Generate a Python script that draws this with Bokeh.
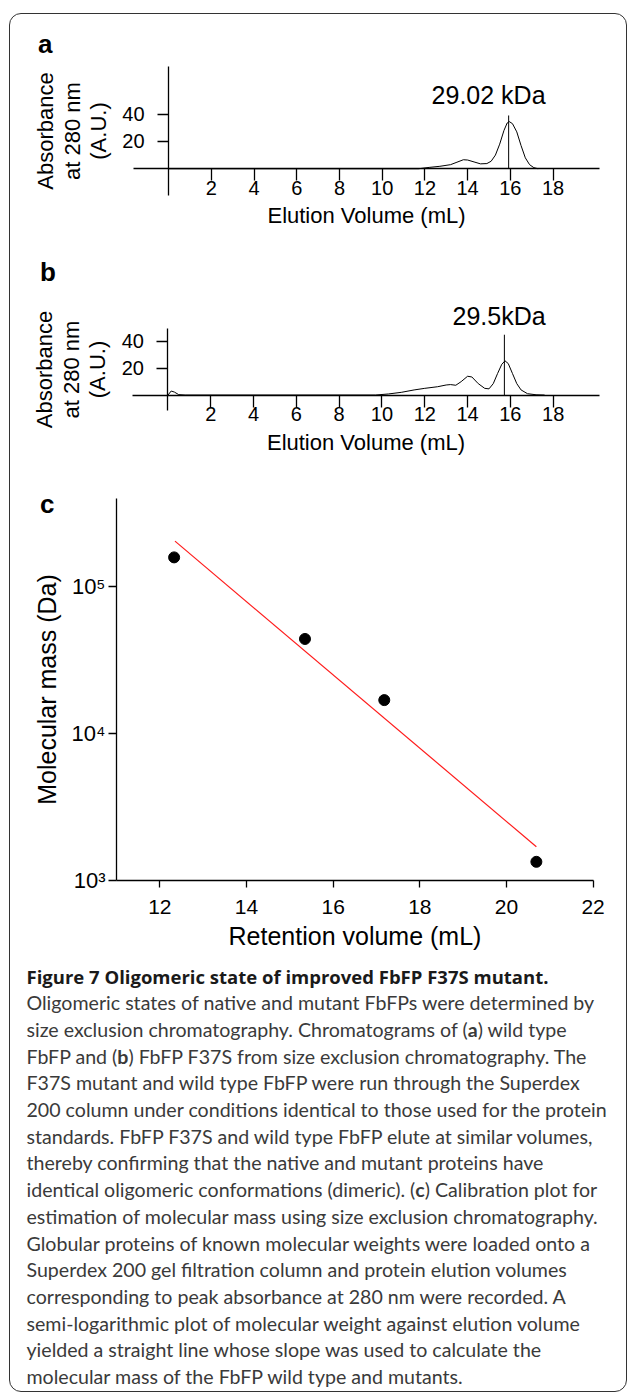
from bokeh.plotting import figure
from bokeh.models import (LinearAxis, LogAxis, FixedTicker, Label, Div, Range1d,
                          CustomJSTickFormatter)
from bokeh.layouts import column
from bokeh.embed import file_html
from bokeh.resources import INLINE

# ---------------- data ----------------
# panel a : wild type FbFP chromatogram
vol_a = [0.0, 11.7, 12.2, 12.7, 13.2, 13.5, 13.8, 14.0, 14.3, 14.6, 14.9, 15.1,
         15.3, 15.5, 15.7, 15.85, 15.95, 16.1, 16.3, 16.5, 16.7, 16.9, 17.1, 17.3]
abs_a = [0, 0, 1.0, 1.8, 3.0, 4.8, 6.6, 6.4, 5.0, 3.6, 3.8, 5.5,
         10, 18, 28, 33.5, 34.5, 33, 27, 17, 8, 3, 0.8, 0]
peak_a_vol = 15.92
peak_a_top = 39
peak_a_label = "29.02 kDa"

# panel b : FbFP F37S chromatogram
vol_b = [0.0, 0.15, 0.3, 0.5, 0.8, 9.7, 10.3, 10.9, 11.5, 12.0, 12.6, 13.0, 13.2,
         13.45, 13.7, 14.0, 14.2, 14.5, 14.8, 15.0, 15.2, 15.4, 15.6, 15.75, 15.9,
         16.1, 16.3, 16.5, 16.8, 17.2, 17.6]
abs_b = [0, 3.0, 2.2, 0.3, 0, 0, 0.8, 2.0, 3.8, 5.0, 6.2, 7.5, 7.8,
         7.3, 10, 14, 13.5, 8.5, 5.0, 4.6, 8.5, 16, 23, 25.5, 23.5,
         16, 8.5, 3.8, 1.0, 0.2, 0]
peak_b_vol = 15.72
peak_b_top = 45
peak_b_label = "29.5kDa"

elution_ticks = [2, 4, 6, 8, 10, 12, 14, 16, 18]
abs_ticks = [20, 40]

# panel c : calibration
ret_vol = [12.33, 15.35, 17.18, 20.69]
mol_mass = [1.59e5, 4.43e4, 1.70e4, 1.35e3]
fit_vol = [12.35, 20.69]
fit_mass = [2.05e5, 1.71e3]
ret_ticks = [12, 14, 16, 18, 20, 22]
mass_ticks = [1e3, 1e4, 1e5]

caption_title = "Figure 7 Oligomeric state of improved FbFP F37S mutant."
caption_lines = [
    "Oligomeric states of native and mutant FbFPs were determined by",
    "size exclusion chromatography. Chromatograms of (<b>a</b>) wild type",
    "FbFP and (<b>b</b>) FbFP F37S from size exclusion chromatography. The",
    "F37S mutant and wild type FbFP were run through the Superdex",
    "200 column under conditions identical to those used for the protein",
    "standards. FbFP F37S and wild type FbFP elute at similar volumes,",
    "thereby confirming that the native and mutant proteins have",
    "identical oligomeric conformations (dimeric). (<b>c</b>) Calibration plot for",
    "estimation of molecular mass using size exclusion chromatography.",
    "Globular proteins of known molecular weights were loaded onto a",
    "Superdex 200 gel filtration column and protein elution volumes",
    "corresponding to peak absorbance at 280 nm were recorded. A",
    "semi-logarithmic plot of molecular weight against elution volume",
    "yielded a straight line whose slope was used to calculate the",
    "molecular mass of the FbFP wild type and mutants.",
]

FONT = "Liberation Sans"
W = 615


def make_fig(h, xr, yr, ytype="linear"):
    p = figure(width=W, height=h, x_range=Range1d(*xr), y_range=Range1d(*yr),
               y_axis_type=ytype, x_axis_location=None, y_axis_location=None,
               toolbar_location=None, output_backend="svg", min_border=0,
               outline_line_color=None, background_fill_color=None,
               border_fill_color=None)
    p.grid.visible = False
    return p


def style_axis(ax, font_px, tick_out, label_px, standoff, label_standoff, line_h=1.2):
    ax.axis_line_color = "black"
    ax.axis_line_width = 1.3
    ax.major_tick_line_color = "black"
    ax.major_tick_line_width = 1.3
    ax.major_tick_in = 0
    ax.major_tick_out = tick_out
    ax.minor_tick_line_color = None
    ax.major_label_text_font = FONT
    ax.major_label_text_font_size = f"{font_px}px"
    ax.major_label_text_color = "black"
    ax.major_label_standoff = standoff
    ax.axis_label_text_font = FONT
    ax.axis_label_text_font_size = f"{label_px}px"
    ax.axis_label_text_font_style = "normal"
    ax.axis_label_text_color = "black"
    ax.axis_label_standoff = label_standoff
    ax.axis_label_text_line_height = line_h


def panel_label(p, txt, sx, sy):
    p.add_layout(Label(x=sx, y=sy, x_units="screen", y_units="screen", text=txt,
                       text_font=FONT, text_font_style="bold", text_font_size="26px",
                       text_baseline="alphabetic", text_color="black"))


def chromatogram(h, xr, yr, vols, absb, pk_vol, pk_top, pk_label, lab_xy,
                 xbounds, ybounds, letter, letter_xy):
    p = make_fig(h, xr, yr)
    p.line(vols, absb, line_color="black", line_width=1)
    p.segment(x0=[pk_vol], y0=[0], x1=[pk_vol], y1=[pk_top], line_color="black", line_width=1)
    p.add_layout(Label(x=lab_xy[0], y=lab_xy[1], text=pk_label, text_align="center",
                       text_baseline="alphabetic",
                       text_font=FONT, text_font_size="25px", text_color="black"))
    xa = LinearAxis(fixed_location=0, bounds=xbounds,
                    ticker=FixedTicker(ticks=elution_ticks, minor_ticks=[]),
                    axis_label="Elution Volume (mL)")
    style_axis(xa, 20, 12, 22, 0, 5)
    p.add_layout(xa, "below")
    ya = LinearAxis(fixed_location=0, bounds=ybounds,
                    ticker=FixedTicker(ticks=abs_ticks, minor_ticks=[]),
                    axis_label="Absorbance\nat 280 nm\n(A.U.)")
    style_axis(ya, 20, 11, 22, 13, 8, line_h=1.07)
    p.add_layout(ya, "left")
    panel_label(p, letter, *letter_xy)
    return p


pa = chromatogram(226, (-7.40, 21.39), (-52.5, 112.9), vol_a, abs_a, peak_a_vol, peak_a_top,
                  peak_a_label, (14.98, 53.8), (-1.63, 20.15), (-19.3, 74.5), "a", (27.5, 196.5))
pb = chromatogram(230, (-7.36, 21.38), (-56.3, 115.3), vol_b, abs_b, peak_b_vol, peak_b_top,
                  peak_b_label, (15.47, 58.9), (-1.68, 20.15), (-11.2, 50), "b", (29.5, 198.5))

# panel c
pc = make_fig(480, (8.554, 22.747), (10 ** 2.527, 10 ** 5.7925), ytype="log")
pc.line(fit_vol, fit_mass, line_color="#ff1a1a", line_width=1.2)
pc.scatter(ret_vol, mol_mass, size=11, color="black")
xc = LinearAxis(fixed_location=1000, bounds=(11, 22),
                ticker=FixedTicker(ticks=ret_ticks, minor_ticks=[]),
                axis_label="Retention volume (mL)")
style_axis(xc, 21, 7, 25, 12, 5)
pc.add_layout(xc, "below")
yc = LogAxis(fixed_location=11, bounds=(1000, 4.03e5),
             ticker=FixedTicker(ticks=mass_ticks, minor_ticks=[]),
             axis_label="Molecular mass (Da)",
             formatter=CustomJSTickFormatter(code="""
                 const e = Math.round(Math.log10(tick));
                 const sup = {'0':'\u2070','1':'\u00b9','2':'\u00b2','3':'\u00b3','4':'\u2074',
                              '5':'\u2075','6':'\u2076','7':'\u2077','8':'\u2078','9':'\u2079'};
                 return '10' + String(e).split('').map(c => sup[c]).join('');
             """))
style_axis(yc, 22, 8, 25, 3, 8)
pc.add_layout(yc, "left")
panel_label(pc, "c", 29.5, 446.5)

cap_html = ("<div style=\"font-family:Lato; font-size:19.6px; line-height:26.7px; color:#3a3a3a; "
            "white-space:nowrap; padding:8.5px 0 0 11.5px;\">"
            "<span style=\"font-family:'Open Sans'; font-weight:700; font-size:18.5px; color:#1a1a1a;\">"
            + caption_title + "</span><br>" + "<br>".join(caption_lines) + "</div>")
cap = Div(text=cap_html, width=W, height=440)

layout = column(pa, pb, pc, cap, spacing=0, margin=(13, 0, 0, 9), width=618, height=1379,
                styles={"border": "1.5px solid #333", "border-radius": "12px",
                        "background-color": "white", "box-sizing": "border-box"})

open("out.html", "w").write(file_html(layout, INLINE))
